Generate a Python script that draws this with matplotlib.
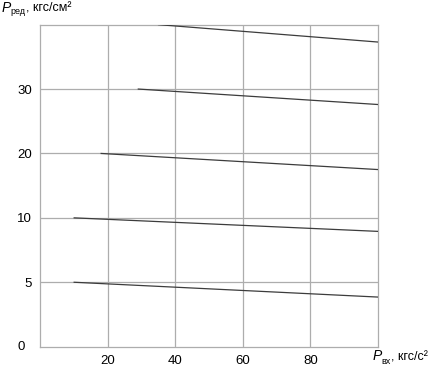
import numpy as np
import matplotlib
matplotlib.use('Agg')
from matplotlib import pyplot as plt

plt.rcParams['font.family'] = ['Liberation Sans', 'DejaVu Sans']

# y axis is non-uniform: equal spacing for these pressure levels
y_levels = [0, 5, 10, 20, 30, 40]
y_ticks = [5, 10, 20, 30]
x_ticks = [20, 40, 60, 80]

# lines: (start Pвх, end Pвх, start Pред, end Pред)
line_x_start = [10, 10, 18, 29, 35]
line_x_end = [100, 100, 100, 100, 100]
line_y_start = [5, 10, 20, 30, 40]
line_y_end = [3.85, 8.95, 17.5, 27.6, 37.3]

GRID = "#adadad"
LINE = "#3c3c3c"
W, H = 430, 368


def ypos(v):
    return np.interp(v, y_levels, np.arange(len(y_levels)))


def ptext(x, y, s, **kw):
    # place text by pixel position (from top-left), baseline aligned
    fig.text(x / W, 1 - y / H, s, va='baseline', ha='left', **kw)


fig = plt.figure(figsize=(4.3, 3.68), dpi=100)
ax = fig.add_axes([0.094, 0.058, 0.785, 0.875])
ax.set_xlim(0, 100)
ax.set_ylim(0, len(y_levels) - 1)

for x0, x1, y0, y1 in zip(line_x_start, line_x_end, line_y_start, line_y_end):
    ax.plot([x0, x1], ypos([y0, y1]), color=LINE, lw=0.9, zorder=3)

ax.set_xticks(x_ticks)
ax.set_xticklabels([str(t) for t in x_ticks])
ax.set_yticks(ypos(y_ticks))
ax.set_yticklabels([str(t) for t in y_ticks])
ax.tick_params(length=0, labelsize=9.5, pad=6, colors="black")
ax.grid(True, color=GRID, lw=0.9)
for s in ax.spines.values():
    s.set_color(GRID)
    s.set_linewidth(0.9)

ax.annotate("0", xy=(0, 0), xycoords='axes fraction', xytext=(-16, 0),
            textcoords='offset pixels', ha='right', va='center', fontsize=9.5)

# axis titles
ptext(1.5, 11.7, "P", fontsize=10, style='italic')
ptext(10.5, 13.5, "ред", fontsize=6.5)
ptext(26.5, 11.7, ", кгс/см²", fontsize=9)
ptext(373, 360.3, "P", fontsize=10, style='italic')
ptext(381.5, 363.5, "вх", fontsize=6.5)
ptext(391, 360.3, ", кгс/с²", fontsize=9)

fig.savefig("out.png", dpi=100)
